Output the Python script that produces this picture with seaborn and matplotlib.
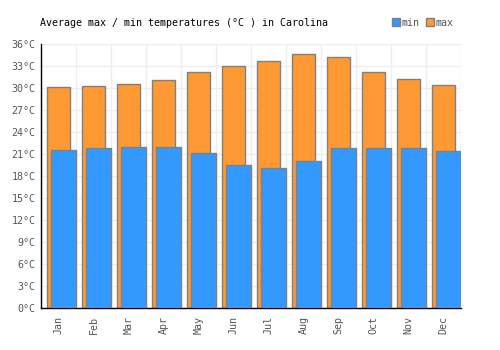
import numpy as np
import pandas as pd
import matplotlib.pyplot as plt
import seaborn as sns
from matplotlib.patches import Patch

months = ['Jan', 'Feb', 'Mar', 'Apr', 'May', 'Jun', 'Jul', 'Aug', 'Sep', 'Oct', 'Nov', 'Dec']
t_max = [30.1, 30.35, 30.5, 31.1, 32.2, 33.0, 33.7, 34.65, 34.2, 32.2, 31.2, 30.4]
t_min = [21.55, 21.8, 22.0, 22.0, 21.1, 19.5, 19.1, 20.0, 21.8, 21.8, 21.8, 21.4]
y_ticks = list(range(0, 37, 3))

orange = '#ff9933'
blue = '#3399ff'
edge = '#808080'
font = 'DejaVu Sans Mono'
fs = 7.2

sns.set_style('white')
plt.rcParams['font.family'] = [font]

df = pd.DataFrame({'month': months, 'max': t_max, 'min': t_min})

fig = plt.figure(figsize=(5, 3.5), dpi=100)
ax = fig.add_axes([0.082, 0.12, 0.84, 0.754])

sns.barplot(data=df, x='month', y='max', ax=ax, color=orange, saturation=1,
            width=0.655, edgecolor=edge, linewidth=1, zorder=2)
n = len(ax.patches)
sns.barplot(data=df, x='month', y='min', ax=ax, color=blue, saturation=1,
            width=0.71, edgecolor=edge, linewidth=1, zorder=3)
# shift the min bars to the right so they overlap the max bars
for p in ax.patches[n:]:
    p.set_x(p.get_x() + 0.145)

ax.set_xlim(-0.5, len(months) - 0.5)
ax.set_ylim(0, 36)
ax.set_yticks(y_ticks)
ax.set_yticklabels([f'{v}°C' for v in y_ticks])
ax.set_xticks(range(len(months)))
ax.set_xticklabels(months, rotation=90)
ax.set_xticks(np.arange(-0.5, len(months), 1), minor=True)
ax.set_xlabel('')
ax.set_ylabel('')

ax.grid(axis='y', which='major', color='#eeeeee', linewidth=1, zorder=0)
ax.grid(axis='x', which='minor', color='#eeeeee', linewidth=1, zorder=0)
ax.set_axisbelow(True)
ax.tick_params(axis='y', which='both', length=0, labelsize=fs, labelcolor='#555555', pad=4)
ax.tick_params(axis='x', which='both', length=0, labelsize=fs, labelcolor='#555555', pad=6)

for s in ['top', 'right']:
    ax.spines[s].set_visible(False)
for s in ['left', 'bottom']:
    ax.spines[s].set_color('black')
    ax.spines[s].set_linewidth(1)

fig.text(0.08, 0.935, 'Average max / min temperatures (°C ) in Carolina',
         fontsize=fs, color='black', va='center', family=font)

handles = [Patch(facecolor=blue, edgecolor=edge, label='min'),
           Patch(facecolor=orange, edgecolor=edge, label='max')]
fig.legend(handles=handles, loc='center right', bbox_to_anchor=(0.925, 0.935), ncol=2,
           frameon=False, fontsize=fs, handlelength=0.8, handleheight=0.8,
           handletextpad=0.2, columnspacing=0.6, labelcolor='#555555')

fig.savefig('out.png', dpi=100)
